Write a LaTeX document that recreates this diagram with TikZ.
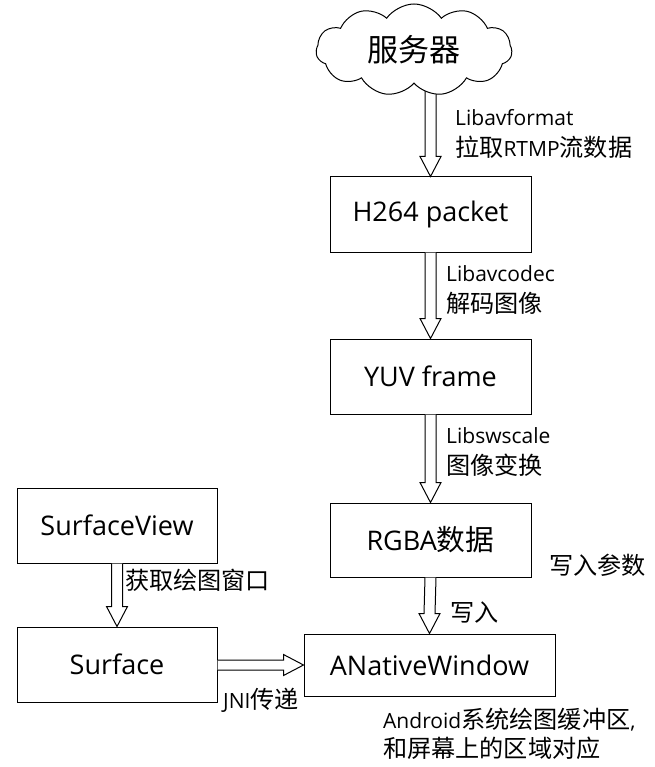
\documentclass[tikz,border=0pt]{standalone}
\usepackage{fontspec}
\setmainfont{Open Sans}
\newfontfamily\cjk{Noto Sans CJK SC}[Scale=1.15]
\usetikzlibrary{shapes.symbols,calc,backgrounds}
\tikzset{
  box/.style={draw, line width=1pt, minimum width=201pt, minimum height=75pt, inner sep=0pt, font=\fontsize{27}{32}\selectfont},
  lbl/.style={anchor=west, inner sep=0pt, align=left, font=\fontsize{21}{31}\selectfont},
  hollow/.style={draw, line width=1pt, fill=white, line join=miter},
}
\newcommand\vhollow[2]{%
  \draw[hollow] ($(#1)+(-5.5,0)$) -- ($(#2)+(-5.5,-20)$) -- ($(#2)+(-10.5,-20)$) -- (#2)
    -- ($(#2)+(10.5,-20)$) -- ($(#2)+(5.5,-20)$) -- ($(#1)+(5.5,0)$);}
\begin{document}
\begin{tikzpicture}[x=1pt,y=-1pt]
\useasboundingbox (0,0) rectangle (654,767);
% cloud
\node[cloud, draw, fill=white, line width=1pt, cloud puffs=11, cloud puff arc=110, aspect=2.1,
      minimum width=196pt, minimum height=92pt, inner sep=0pt,
      font=\fontsize{27}{32}\selectfont] (srv) at (414,50) {\cjk 服务器};
% boxes
\node[box] (h264) at (430.5,214.5) {H264 packet};
\node[box] (yuv)  at (430.5,376.5) {YUV frame};
\node[box, minimum height=74pt] (rgba) at (430.5,540) {RGBA{\fontsize{25}{30}\selectfont\cjk 数据}};
\node[box, minimum width=251pt, minimum height=62pt] (anw) at (429.5,665) {ANativeWindow};
\node[box, minimum width=200pt] (sv)   at (117,525.5) {SurfaceView};
\node[box, minimum width=200pt] (surf) at (117,664.5) {Surface};
% arrows
\coordinate (c1) at (h264.north |- srv.center);
\begin{pgfonlayer}{background}
\vhollow{c1}{h264.north}
\end{pgfonlayer}
\vhollow{h264.south}{yuv.north}
\vhollow{yuv.south}{rgba.north}
\vhollow{rgba.south}{anw.north}
\vhollow{sv.south}{surf.north}
\coordinate (hs) at (surf.east |- anw.west);
\draw[hollow] ($(hs)+(0,-5)$) -- ($(anw.west)+(-20,-5)$) -- ($(anw.west)+(-20,-10.5)$) -- (anw.west)
  -- ($(anw.west)+(-20,10.5)$) -- ($(anw.west)+(-20,5)$) -- ($(hs)+(0,5)$);
% labels
\node[lbl] (l1) at (455,134) {Libavformat\\{\cjk 拉取}RTMP{\cjk 流数据}};
\node[lbl] (l2) at (446,290) {Libavcodec\\{\cjk 解码图像}};
\node[lbl] (l3) at (446,452.5) {Libswscale\\{\cjk 图像变换}};
\node[lbl] (l4) at (549,565) {\cjk 写入参数};
\node[lbl] (l5) at (450,612) {\cjk 写入};
\node[lbl] (l6) at (125,580) {\cjk 获取绘图窗口};
\node[lbl] (l7) at (223,700) {JNI{\cjk 传递}};
\node[lbl, font=\fontsize{21}{29}\selectfont] (l8) at (383,733.5) {Android{\cjk 系统绘图缓冲区}{,}\\{\cjk 和屏幕上的区域对应}};
\end{tikzpicture}
\end{document}
